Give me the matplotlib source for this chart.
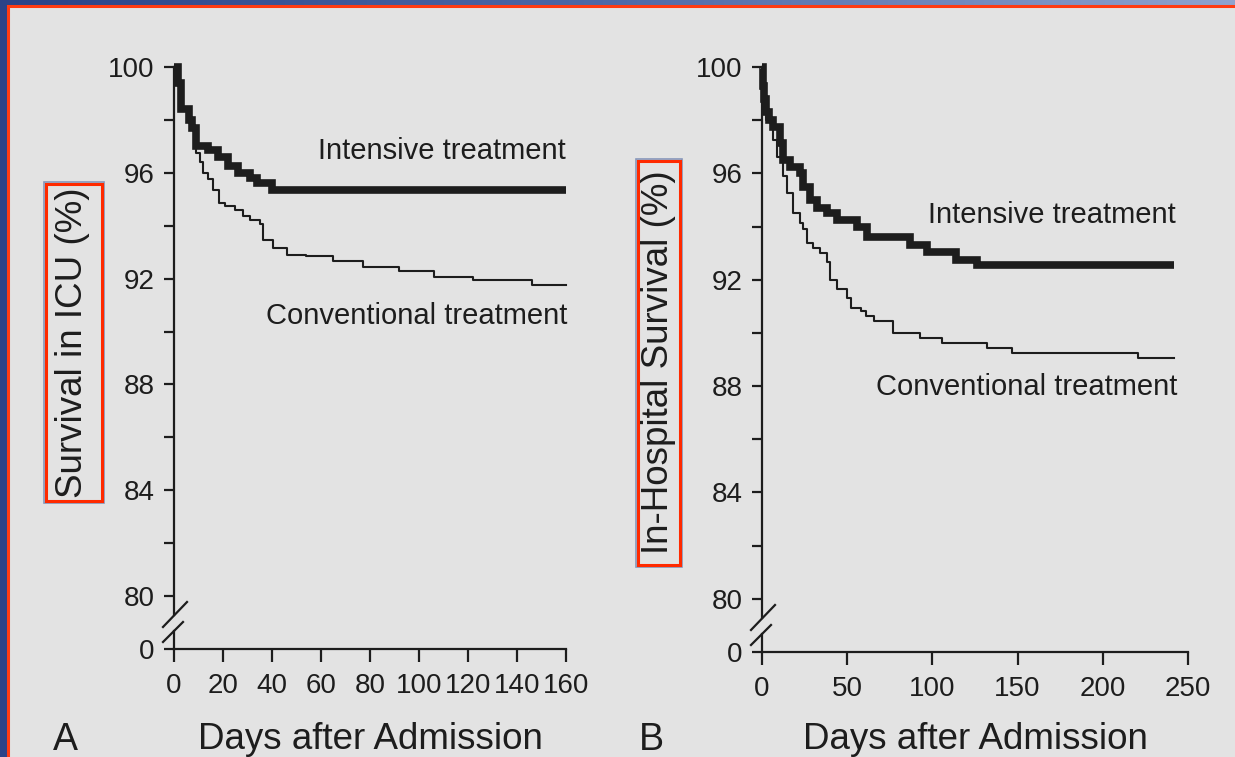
import numpy as np
import matplotlib
matplotlib.use("Agg")
import matplotlib.pyplot as plt
from matplotlib.patches import Rectangle
from matplotlib.colors import LinearSegmentedColormap

plt.rcParams["font.family"] = ["Liberation Sans", "DejaVu Sans"]

INK = "#1d1d1d"
PAPER = "#e3e3e3"

# --- Panel A: survival in ICU (step change points, days / %) ---
a_int_days = [0, 1.5, 3, 6, 7.5, 9, 14, 18, 22, 26, 31, 34, 40, 160]
a_int_surv = [100, 99.4, 98.4, 98.0, 97.7, 97.0, 96.85, 96.6, 96.25, 96.0, 95.8, 95.6, 95.35, 95.35]

a_con_days = [0, 1.5, 3, 6, 7.5, 9, 10.5, 12, 14, 16, 18.5, 21, 25, 28, 31, 35, 36.5,
              40.5, 46, 54, 65, 77, 92, 106, 122, 146, 160]
a_con_surv = [100, 99.4, 98.4, 98.0, 97.7, 96.75, 96.4, 96.0, 95.75, 95.35, 94.85, 94.75,
              94.6, 94.35, 94.2, 94.05, 93.45, 93.15, 92.9, 92.85, 92.65, 92.45, 92.27,
              92.08, 91.96, 91.77, 91.77]

# --- Panel B: in-hospital survival ---
b_int_days = [0, 0.7, 1.4, 2.2, 4, 6.6, 10.6, 12.5, 16.4, 22.3, 24.2, 28.2, 32.1, 38,
              43.8, 55.6, 61.4, 86.9, 96.6, 114, 126, 242]
b_int_surv = [100, 99.3, 98.8, 98.3, 98.0, 97.75, 97.15, 96.5, 96.25, 96.0, 95.5, 95.0,
              94.7, 94.5, 94.25, 94.0, 93.62, 93.31, 93.06, 92.74, 92.56, 92.56]

b_con_days = [0, 0.7, 1.4, 2.2, 6.6, 9, 12.5, 14.5, 18.4, 22.3, 24.3, 26.2, 30, 34, 38,
              39.9, 43.8, 49.7, 52, 58, 61, 66, 77, 92.7, 105.5, 131.9, 146.5, 220.7, 242]
b_con_surv = [100, 99.3, 98.8, 98.0, 97.25, 96.6, 95.9, 95.25, 94.5, 94.15, 93.9, 93.4,
              93.2, 93.0, 92.65, 92.0, 91.65, 91.3, 90.95, 90.82, 90.65, 90.45, 90.0,
              89.8, 89.62, 89.44, 89.25, 89.06, 89.06]

# y axis is broken: the "0" tick is drawn at 78, just under the 80 tick
Y_ZERO = 78
y_major = [Y_ZERO, 80, 84, 88, 92, 96, 100]
y_major_labels = ["0", "80", "84", "88", "92", "96", "100"]
y_minor = [82, 86, 90, 94, 98]

a_xticks = [0, 20, 40, 60, 80, 100, 120, 140, 160]
b_xticks = [0, 50, 100, 150, 200, 250]

W, H = 1235, 757
fig = plt.figure(figsize=(W / 100, H / 100), dpi=100)

# slide background + scanned page frame, drawn in pixel space
bg = fig.add_axes([0, 0, 1, 1], zorder=-5)
bg.set_xlim(0, W)
bg.set_ylim(H, 0)
bg.axis("off")
blue = LinearSegmentedColormap.from_list("slide", ["#2a4388", "#4f6aa8", "#8fa3cf"])
bg.imshow(np.linspace(0, 1, 256)[None, :], cmap=blue, aspect="auto",
          extent=(0, W, H, 0), zorder=0)
bg.add_patch(Rectangle((8, 6), W, H, facecolor=PAPER, edgecolor="#ff3b12",
                       linewidth=2.2, zorder=1))
for (x0, y0, x1, y1) in [(46, 184, 102, 501), (638, 161, 680, 565)]:
    bg.add_patch(Rectangle((x0 - 2, y0 - 2), x1 - x0 + 4, y1 - y0 + 4, fill=False,
                           edgecolor="#8797bb", linewidth=1.2, zorder=2))
    bg.add_patch(Rectangle((x0, y0), x1 - x0, y1 - y0, fill=False,
                           edgecolor="#ff2a00", linewidth=2.2, zorder=3))
bg.text(65, 740, "A", fontsize=27, color=INK, ha="center", va="center")
bg.text(651, 740, "B", fontsize=27, color=INK, ha="center", va="center")


def style_axes(ax, xmax, xticks, ylabel, ylab_xy, xlab_y):
    ax.set_facecolor("none")
    ax.set_xlim(0, xmax)
    ax.set_ylim(Y_ZERO, 100)
    for side in ("top", "right"):
        ax.spines[side].set_visible(False)
    for side in ("left", "bottom"):
        ax.spines[side].set_linewidth(1.6)
        ax.spines[side].set_color(INK)
    ax.spines["left"].set_bounds(79.27, 100)
    ax.set_yticks(y_major)
    ax.set_yticklabels(y_major_labels)
    ax.set_yticks(y_minor, minor=True)
    ax.set_xticks(xticks)
    ax.tick_params(axis="y", which="both", length=7, width=1.6, color=INK,
                   labelsize=20, labelcolor=INK, pad=7)
    ax.tick_params(axis="x", length=9, width=1.6, color=INK, labelsize=20,
                   labelcolor=INK, pad=8)
    ax.set_ylabel(ylabel, fontsize=26.5, color=INK, va="center")
    ax.yaxis.set_label_coords(*ylab_xy)
    ax.set_xlabel("Days after Admission", fontsize=26.5, color=INK, va="center")
    ax.xaxis.set_label_coords(0.5, xlab_y)


def draw_break(ax):
    # two short slashes across the y axis between "0" and 80
    pos = ax.get_position()
    w_px = pos.width * W
    h_px = pos.height * H
    for (x0, y0, x1, y1) in [(-11, 22, 13, 47), (-11, 7, 9, 27)]:
        ax.plot([x0 / w_px, x1 / w_px], [y0 / h_px, y1 / h_px], color=INK,
                linewidth=1.6, transform=ax.transAxes, clip_on=False)
    ax.plot([0, 0], [Y_ZERO, 78.68], color=INK, linewidth=1.6, clip_on=False)


def draw_curves(ax, t_int, s_int, t_con, s_con):
    ax.step(t_con, s_con, where="post", color=INK, linewidth=1.5, zorder=3,
            clip_on=False)
    ax.step(t_int, s_int, where="post", color=INK, linewidth=5.5, zorder=4,
            solid_joinstyle="miter", solid_capstyle="butt", clip_on=False)


ax_a = fig.add_axes([174 / W, (H - 649) / H, 392 / W, 582 / H])
style_axes(ax_a, 160, a_xticks, "Survival in ICU (%)", (-0.258, 0.526), -0.156)
draw_curves(ax_a, a_int_days, a_int_surv, a_con_days, a_con_surv)
draw_break(ax_a)
ax_a.text(160, 96.82, "Intensive treatment", fontsize=21, color=INK,
          ha="right", va="center")
ax_a.text(160.5, 90.6, "Conventional treatment", fontsize=21, color=INK,
          ha="right", va="center")

ax_b = fig.add_axes([762 / W, (H - 652) / H, 426 / W, 585 / H])
style_axes(ax_b, 250, b_xticks, "In-Hospital Survival (%)", (-0.244, 0.496), -0.150)
draw_curves(ax_b, b_int_days, b_int_surv, b_con_days, b_con_surv)
draw_break(ax_b)
ax_b.text(243, 94.45, "Intensive treatment", fontsize=21, color=INK,
          ha="right", va="center")
ax_b.text(243.5, 87.95, "Conventional treatment", fontsize=21, color=INK,
          ha="right", va="center")

fig.savefig("out.png", dpi=100)
